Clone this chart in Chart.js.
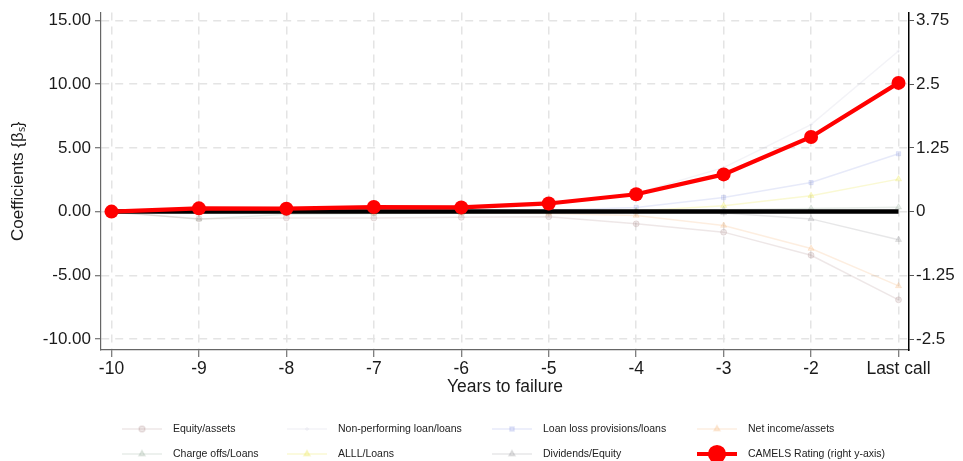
<!DOCTYPE html>
<html>
<head>
<meta charset="utf-8">
<script src="https://cdn.jsdelivr.net/npm/chart.js@4"></script>
<style>
  html, body { margin: 0; padding: 0; background: #fff; }
  #wrap { width: 963px; height: 461px; position: relative; }
</style>
</head>
<body>
<div id="wrap"><canvas id="c" width="963" height="461"></canvas></div>
<script>
// Event-time categories (years before failure)
const categories = ['-10', '-9', '-8', '-7', '-6', '-5', '-4', '-3', '-2', 'Last call'];

// Coefficients for each financial ratio (left axis)
const equityAssets      = [-0.05, -0.55, -0.50, -0.50, -0.45, -0.40, -0.96, -1.61, -3.42, -6.92];
const nplLoans          = [0.00, 0.05, 0.10, 0.15, 0.20, 0.50, 1.45, 3.45, 6.83, 12.60];
const llpLoans          = [0.00, 0.00, 0.02, 0.03, 0.05, 0.10, 0.33, 1.11, 2.28, 4.54];
const netIncomeAssets   = [0.00, -0.10, -0.10, -0.10, -0.10, -0.15, -0.31, -1.09, -2.90, -5.83];
const chargeOffsLoans   = [0.00, -0.60, -0.20, -0.15, -0.10, -0.05, 0.05, 0.15, 0.25, 0.35];
const alllLoans         = [0.00, 0.00, 0.00, 0.02, 0.03, 0.05, 0.05, 0.47, 1.25, 2.55];
const dividendsEquity   = [0.00, -0.10, -0.05, -0.05, 0.00, 0.00, -0.05, -0.10, -0.57, -2.20];

// CAMELS rating coefficients (right axis)
const camels            = [0.00, 0.064, 0.058, 0.090, 0.083, 0.160, 0.340, 0.730, 1.465, 2.525];

// Reference line at zero
const zeroLine          = [0, 0, 0, 0, 0, 0, 0, 0, 0, 0];

// Axis tick values
const leftTicks  = [15, 10, 5, 0, -5, -10];
const rightTicks = [3.75, 2.5, 1.25, 0, -1.25, -2.5];

const FONT = "'Liberation Sans', Arial, Helvetica, sans-serif";
const pts = arr => arr.map((v, i) => ({ x: i, y: v }));

function faint(label, data, color, style, radius) {
  return {
    label, data: pts(data), yAxisID: 'y', order: 2,
    borderColor: color, backgroundColor: color,
    pointBackgroundColor: color, pointBorderColor: color,
    borderWidth: 1.5, pointStyle: style, pointRadius: radius,
    pointBorderWidth: 1, tension: 0
  };
}

const datasets = [
  faint('Equity/assets',             equityAssets,    'rgba(160,120,120,0.18)', 'circle',   3),
  faint('Non-performing loan/loans', nplLoans,        'rgba(200,200,220,0.22)', 'cross',    2),
  faint('Loan loss provisions/loans',llpLoans,        'rgba(120,140,220,0.18)', 'rect',     3),
  faint('Net income/assets',         netIncomeAssets, 'rgba(245,170,100,0.20)', 'triangle', 3.5),
  faint('Charge offs/Loans',         chargeOffsLoans, 'rgba(120,150,125,0.18)', 'triangle', 3.5),
  faint('ALLL/Loans',                alllLoans,       'rgba(235,230,80,0.25)',  'triangle', 3.5),
  faint('Dividends/Equity',          dividendsEquity, 'rgba(120,120,125,0.18)', 'triangle', 3.5),
  {
    label: 'CAMELS Rating (right y-axis)', data: pts(camels), yAxisID: 'y2', order: 0,
    borderColor: '#ff0000', backgroundColor: '#ff0000',
    pointBackgroundColor: '#ff0000', pointBorderColor: '#ff0000',
    borderWidth: 4.2, pointRadius: 7, pointBorderWidth: 0, pointStyle: 'circle', tension: 0
  },
  {
    label: 'zero', data: pts(zeroLine), yAxisID: 'y', order: 1,
    borderColor: '#000000', borderWidth: 4.5, pointRadius: 0, tension: 0
  }
];

// Legend drawn in fixed columns below the plot
const legendCols = [122, 287, 492, 697];
const legendRows = [429, 454];
const legendPlugin = {
  id: 'colLegend',
  afterDraw(chart) {
    const ctx = chart.ctx;
    const ds = chart.data.datasets.slice(0, 8);
    ds.forEach((d, i) => {
      const x0 = legendCols[i % 4];
      const y = legendRows[Math.floor(i / 4)];
      const xm = x0 + 20;
      ctx.save();
      ctx.strokeStyle = d.borderColor;
      ctx.lineWidth = d.borderWidth;
      ctx.beginPath();
      ctx.moveTo(x0, y);
      ctx.lineTo(x0 + 40, y);
      ctx.stroke();
      ctx.fillStyle = d.pointBackgroundColor;
      ctx.strokeStyle = d.pointBorderColor;
      Chart.helpers.drawPoint(ctx, {
        pointStyle: d.pointStyle, rotation: 0,
        radius: d.pointRadius, borderWidth: d.pointBorderWidth || 0.01
      }, xm, y);
      ctx.fillStyle = '#222';
      ctx.font = '10.5px ' + FONT;
      ctx.textBaseline = 'middle';
      ctx.textAlign = 'left';
      ctx.fillText(d.label, x0 + 51, y);
      ctx.restore();
    });
  }
};

const gridDash = [8, 6];
const Y_MIN = -10.857, Y_MAX = 15.623;

new Chart(document.getElementById('c'), {
  type: 'line',
  data: { datasets },
  plugins: [legendPlugin],
  options: {
    responsive: false,
    animation: false,
    layout: { padding: { top: 7, bottom: 60, left: 0, right: 0 } },
    plugins: { legend: { display: false }, tooltip: { enabled: false } },
    scales: {
      x: {
        type: 'linear', min: -0.12, max: 9.12,
        afterBuildTicks: s => { s.ticks = categories.map((c, i) => ({ value: i })); },
        afterFit: s => { s.height = 51; },
        ticks: {
          callback: v => categories[v],
          color: '#1a1a1a', font: { family: FONT, size: 17.5 }, padding: 2, maxRotation: 0, autoSkip: false
        },
        grid: {
          color: '#e4e4e4', lineWidth: 1.5,
          tickColor: '#555', tickLength: 7, tickWidth: 1, tickBorderDash: []
        },
        border: { color: '#666', width: 1.2, dash: gridDash },
        title: {
          display: true, text: 'Years to failure', color: '#1a1a1a',
          font: { family: FONT, size: 17.5 }, padding: { top: 0, bottom: 3 }
        }
      },
      y: {
        position: 'left', min: Y_MIN, max: Y_MAX,
        afterBuildTicks: s => { s.ticks = leftTicks.map(v => ({ value: v })); },
        afterFit: s => { s.width = 101; },
        ticks: {
          callback: v => v.toFixed(2),
          color: '#1a1a1a', font: { family: FONT, size: 17, lineHeight: 1 }, padding: 4
        },
        grid: {
          color: '#e4e4e4', lineWidth: 1.5,
          tickColor: '#555', tickLength: 6, tickWidth: 1, tickBorderDash: []
        },
        border: { color: '#666', width: 1.2, dash: gridDash },
        title: {
          display: true, text: 'Coefficients {βₛ}', color: '#1a1a1a',
          font: { family: FONT, size: 17 }, padding: { top: 8, bottom: 0 }
        }
      },
      y2: {
        position: 'right', min: Y_MIN / 4, max: Y_MAX / 4,
        afterBuildTicks: s => { s.ticks = rightTicks.map(v => ({ value: v })); },
        afterFit: s => { s.width = 54; },
        ticks: {
          callback: v => String(v),
          color: '#1a1a1a', font: { family: FONT, size: 17, lineHeight: 1 }, padding: 2
        },
        grid: {
          drawOnChartArea: false, tickColor: '#555', tickLength: 5, tickWidth: 1, tickBorderDash: []
        },
        border: { color: '#000', width: 1.5 }
      }
    }
  }
});
</script>
</body>
</html>
